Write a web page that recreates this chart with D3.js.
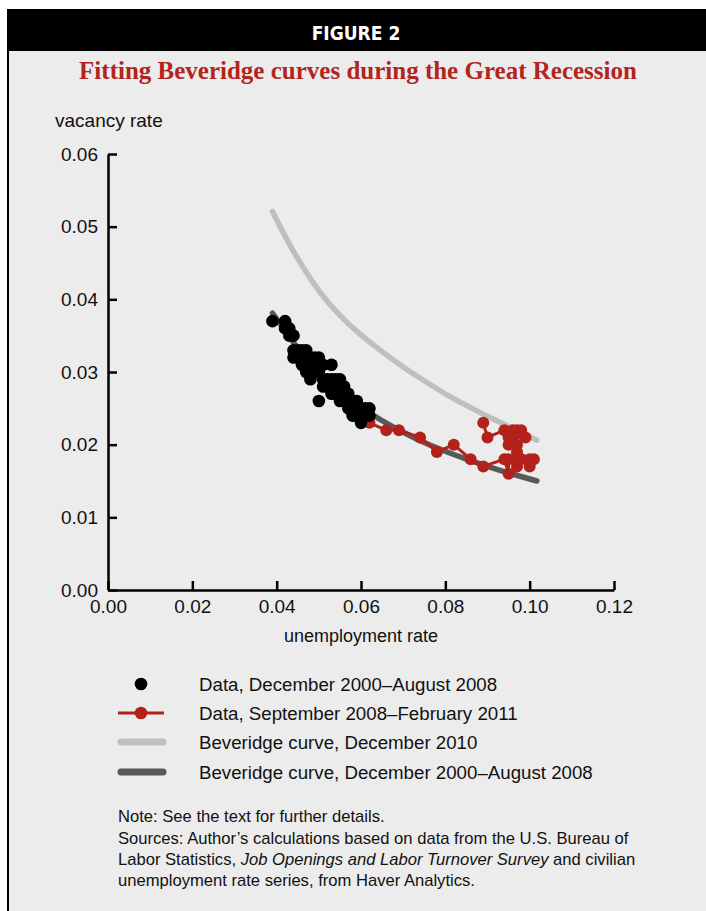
<!DOCTYPE html>
<html>
<head>
<meta charset="utf-8">
<script src="https://cdn.jsdelivr.net/npm/d3@7"></script>
<style>
  body { margin: 0; background: #fff; }
  svg { display: block; font-family: "Liberation Sans", Arial, Helvetica, sans-serif; }
</style>
</head>
<body>
<svg id="chart" width="706" height="911"></svg>
<script>
// Dec 2000 - Aug 2008, [unemployment, vacancy]
const preRecessionData = [
    [0.039, 0.037], [0.042, 0.037], [0.042, 0.036], [0.043, 0.036], [0.043, 0.035],
    [0.044, 0.035], [0.044, 0.033], [0.044, 0.032], [0.045, 0.033], [0.045, 0.032],
    [0.046, 0.033], [0.046, 0.032], [0.046, 0.031], [0.047, 0.033], [0.047, 0.032],
    [0.047, 0.031], [0.047, 0.030], [0.048, 0.032], [0.048, 0.031], [0.048, 0.030],
    [0.048, 0.029], [0.049, 0.032], [0.049, 0.031], [0.049, 0.030], [0.050, 0.032],
    [0.050, 0.031], [0.050, 0.030], [0.050, 0.026], [0.051, 0.031], [0.051, 0.029],
    [0.051, 0.028], [0.052, 0.029], [0.052, 0.028], [0.053, 0.031], [0.053, 0.029],
    [0.053, 0.028], [0.053, 0.027], [0.054, 0.029], [0.054, 0.028], [0.054, 0.027],
    [0.055, 0.029], [0.055, 0.028], [0.055, 0.027], [0.055, 0.026], [0.056, 0.028],
    [0.056, 0.027], [0.056, 0.026], [0.057, 0.027], [0.057, 0.026], [0.057, 0.025],
    [0.058, 0.026], [0.058, 0.025], [0.058, 0.024], [0.059, 0.026], [0.059, 0.025],
    [0.059, 0.024], [0.060, 0.025], [0.060, 0.024], [0.060, 0.023], [0.061, 0.025],
    [0.061, 0.024], [0.062, 0.025], [0.062, 0.024],
];

// Sep 2008 - Feb 2011, in order
const recessionData = [
    [0.062, 0.023], [0.066, 0.022], [0.069, 0.022], [0.074, 0.021], [0.078, 0.019],
    [0.082, 0.020], [0.086, 0.018], [0.089, 0.017], [0.094, 0.018], [0.095, 0.016],
    [0.095, 0.018], [0.097, 0.017], [0.098, 0.018], [0.101, 0.018], [0.100, 0.017],
    [0.100, 0.018], [0.097, 0.019], [0.097, 0.018], [0.097, 0.020], [0.099, 0.021],
    [0.096, 0.021], [0.095, 0.020], [0.095, 0.021], [0.096, 0.022], [0.096, 0.021],
    [0.097, 0.022], [0.098, 0.022], [0.094, 0.022], [0.090, 0.021], [0.089, 0.023],
];

const curveDec2010 = [
    [0.039, 0.0521], [0.044, 0.0466], [0.050, 0.0412], [0.055, 0.0378], [0.060, 0.0351],
    [0.065, 0.0328], [0.070, 0.0307], [0.075, 0.0288], [0.080, 0.0270], [0.085, 0.0254],
    [0.090, 0.0239], [0.095, 0.0225], [0.1017, 0.0206],
];

const curvePre = [
    [0.039, 0.0381], [0.045, 0.0333], [0.050, 0.0300], [0.055, 0.0274], [0.060, 0.0252],
    [0.065, 0.0233], [0.070, 0.0217], [0.075, 0.0203], [0.080, 0.0191], [0.085, 0.0180],
    [0.090, 0.0170], [0.095, 0.0161], [0.1017, 0.0150],
];

const xTicks = [0, 0.02, 0.04, 0.06, 0.08, 0.10, 0.12];
const yTicks = [0, 0.01, 0.02, 0.03, 0.04, 0.05, 0.06];

const legendItems = [
    { label: 'Data, December 2000\u2013August 2008', type: 'dot' },
    { label: 'Data, September 2008\u2013February 2011', type: 'lineDot' },
    { label: 'Beveridge curve, December 2010', type: 'light' },
    { label: 'Beveridge curve, December 2000\u2013August 2008', type: 'dark' },
];

const COLORS = {
    panel: '#ececec',
    red: '#b3221a',
    title: '#b3241c',
    light: '#bfbfbf',
    dark: '#595959',
};

const svg = d3.select('#chart');

// frame
svg.append('rect').attr('x', 7).attr('y', 9).attr('width', 699).attr('height', 902).attr('fill', COLORS.panel);
svg.append('rect').attr('x', 7).attr('y', 9).attr('width', 699).attr('height', 42).attr('fill', '#000');
svg.append('rect').attr('x', 7).attr('y', 9).attr('width', 2).attr('height', 902).attr('fill', '#000');

svg.append('text')
    .attr('x', 356).attr('y', 40)
    .attr('text-anchor', 'middle')
    .attr('fill', '#fff')
    .style('font-family', '"Liberation Sans Narrow", "DejaVu Sans Condensed", sans-serif')
    .style('font-weight', 'bold')
    .style('font-size', '19px')
    .text('FIGURE 2');

svg.append('text')
    .attr('x', 358).attr('y', 79)
    .attr('text-anchor', 'middle')
    .attr('fill', COLORS.title)
    .style('font-family', '"Liberation Serif", "Times New Roman", serif')
    .style('font-weight', 'bold')
    .style('font-size', '25px')
    .text('Fitting Beveridge curves during the Great Recession');

// scales
const x = d3.scaleLinear().domain([0, 0.12]).range([108, 614]);
const y = d3.scaleLinear().domain([0, 0.06]).range([590, 154]);

const fmt = d3.format('.2f');

const yAxis = svg.append('g')
    .attr('transform', `translate(${x(0)},0)`)
    .call(d3.axisLeft(y).tickValues(yTicks).tickFormat(fmt).tickSize(-9).tickSizeOuter(0).tickPadding(10));

const xAxis = svg.append('g')
    .attr('transform', `translate(0,${y(0)})`)
    .call(d3.axisBottom(x).tickValues(xTicks).tickFormat(fmt).tickSize(-9).tickSizeOuter(0).tickPadding(10));

[xAxis, yAxis].forEach((g) => {
    g.select('.domain').attr('stroke', '#000').attr('stroke-width', 2.5);
    g.selectAll('.tick line').attr('stroke', '#000').attr('stroke-width', 2.5);
    g.selectAll('.tick text')
        .attr('fill', '#111')
        .style('font-family', '"Liberation Sans", Arial, sans-serif')
        .style('font-size', '19px');
});

svg.append('text')
    .attr('x', 55).attr('y', 127)
    .attr('fill', '#111')
    .style('font-size', '19px')
    .text('vacancy rate');

svg.append('text')
    .attr('x', 361).attr('y', 642)
    .attr('text-anchor', 'middle')
    .attr('fill', '#111')
    .style('font-size', '18px')
    .text('unemployment rate');

// curves
const line = d3.line()
    .x((d) => x(d[0]))
    .y((d) => y(d[1]))
    .curve(d3.curveNatural);

svg.append('path')
    .datum(curveDec2010)
    .attr('d', line)
    .attr('fill', 'none')
    .attr('stroke', COLORS.light)
    .attr('stroke-width', 5.5)
    .attr('stroke-linecap', 'round');

svg.append('path')
    .datum(curvePre)
    .attr('d', line)
    .attr('fill', 'none')
    .attr('stroke', COLORS.dark)
    .attr('stroke-width', 5.5)
    .attr('stroke-linecap', 'round');

// red path
svg.append('path')
    .datum(recessionData)
    .attr('d', d3.line().x((d) => x(d[0])).y((d) => y(d[1])))
    .attr('fill', 'none')
    .attr('stroke', COLORS.red)
    .attr('stroke-width', 3);

svg.append('g')
    .selectAll('circle')
    .data(recessionData)
    .join('circle')
    .attr('cx', (d) => x(d[0]))
    .attr('cy', (d) => y(d[1]))
    .attr('r', 6)
    .attr('fill', COLORS.red);

svg.append('g')
    .selectAll('circle')
    .data(preRecessionData)
    .join('circle')
    .attr('cx', (d) => x(d[0]))
    .attr('cy', (d) => y(d[1]))
    .attr('r', 6.3)
    .attr('fill', '#000');

// legend
const legend = svg.append('g');
const rowY = [684, 713, 742, 772];
legendItems.forEach((item, i) => {
    const g = legend.append('g').attr('transform', `translate(0,${rowY[i]})`);
    if (item.type === 'dot') {
        g.append('circle').attr('cx', 141).attr('r', 6.3).attr('fill', '#000');
    } else if (item.type === 'lineDot') {
        g.append('line').attr('x1', 118).attr('x2', 164).attr('stroke', COLORS.red).attr('stroke-width', 3);
        g.append('circle').attr('cx', 141).attr('r', 6.3).attr('fill', COLORS.red);
    } else {
        g.append('line').attr('x1', 121).attr('x2', 163)
            .attr('stroke', item.type === 'light' ? COLORS.light : COLORS.dark)
            .attr('stroke-width', 7)
            .attr('stroke-linecap', 'round');
    }
    g.append('text')
        .attr('x', 199).attr('y', 6.5)
        .attr('fill', '#111')
        .style('font-size', '18.7px')
        .text(item.label);
});

// notes
const notes = svg.append('g').style('font-size', '16.6px').attr('fill', '#111');
notes.append('text').attr('x', 118).attr('y', 822).text('Note: See the text for further details.');
notes.append('text').attr('x', 118).attr('y', 844).text('Sources: Author\u2019s calculations based on data from the U.S. Bureau of');
const l2 = notes.append('text').attr('x', 118).attr('y', 865);
l2.append('tspan').text('Labor Statistics, ');
l2.append('tspan').style('font-style', 'italic').text('Job Openings and Labor Turnover Survey');
l2.append('tspan').text(' and civilian');
notes.append('text').attr('x', 118).attr('y', 886).text('unemployment rate series, from Haver Analytics.');
</script>
</body>
</html>
